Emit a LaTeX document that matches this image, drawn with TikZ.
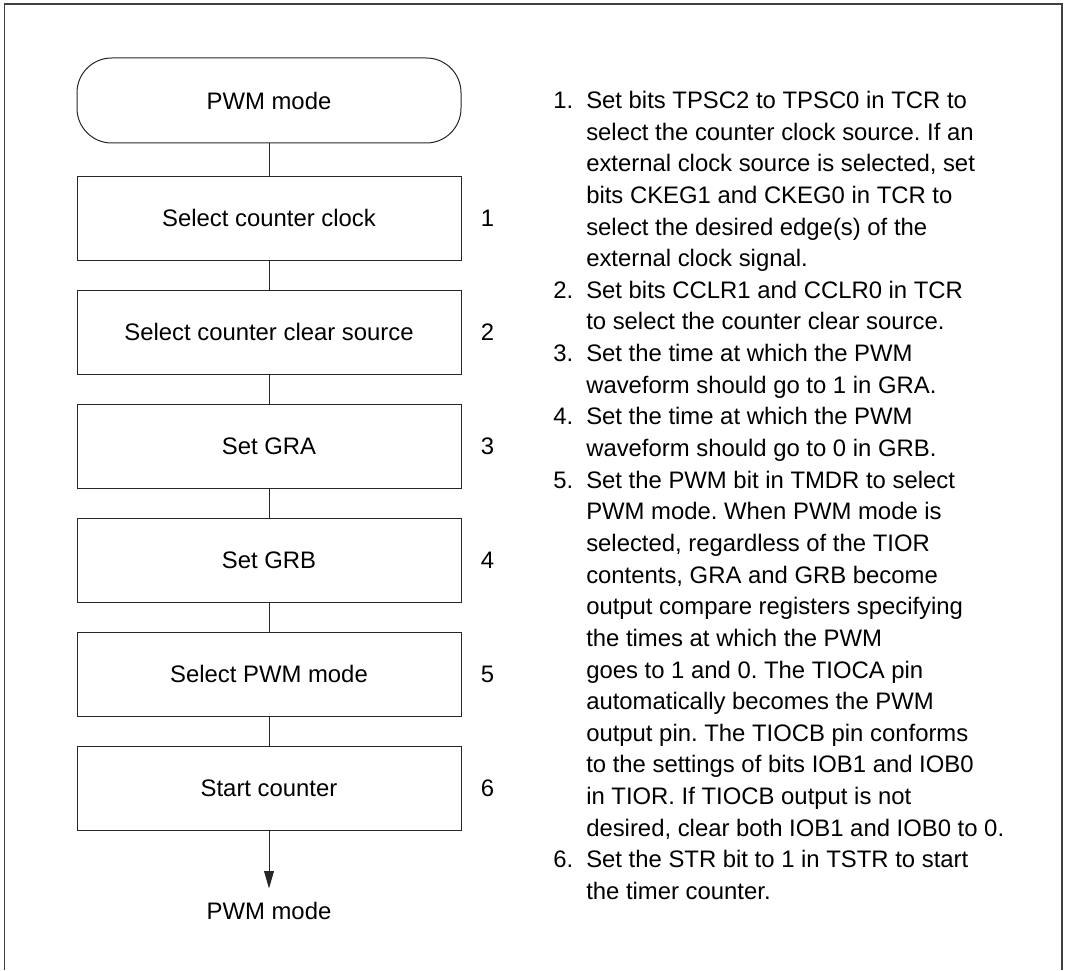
\documentclass[tikz,border=0pt]{standalone}
\usepackage{fontspec}
\setmainfont{Liberation Sans}
\usetikzlibrary{arrows.meta, positioning}
\frenchspacing
\newcommand{\chartfont}{\fontsize{17.9}{23.73}\selectfont}
\tikzset{
  termbox/.style={draw=black!85, rounded corners=26pt, minimum width=288pt, minimum height=63.75pt,
    align=center, line width=0.75pt, font=\chartfont},
  stepbox/.style={draw=black!85, minimum width=288pt, minimum height=63pt,
    align=center, line width=0.75pt, font=\chartfont},
  stepnum/.style={inner sep=0pt, font=\chartfont},
  link/.style={draw=black!85, line width=0.75pt},
  flow/.style={-{Triangle[length=13pt, width=7.3pt]}, draw=black!85, line width=0.75pt},
  frame/.style={draw=black!75, line width=1.3pt}
}

\begin{document}
\begin{tikzpicture}[x=0.75pt, y=-0.75pt, node distance=21.75pt]
\useasboundingbox (0,0) rectangle (1066,970);
\draw[frame] (4.5,970) -- (4.5,4) -- (1062,4) -- (1062,970);

% flow chart
\node[termbox] (term) at (269,100.5) {PWM mode};
\node[stepbox, below=24pt of term] (s1) {Select counter clock};
\node[stepbox, below=of s1] (s2) {Select counter clear source};
\node[stepbox, below=of s2] (s3) {Set GRA};
\node[stepbox, below=of s3] (s4) {Set GRB};
\node[stepbox, below=of s4] (s5) {Select PWM mode};
\node[stepbox, below=of s5] (s6) {Start counter};
\node[inner xsep=0pt, inner ysep=10.3pt, font=\chartfont, below=43.5pt of s6] (endm) {PWM mode};

\node[stepnum, right=14.25pt of s1] (n1) {1};
\node[stepnum, right=14.25pt of s2] (n2) {2};
\node[stepnum, right=14.25pt of s3] (n3) {3};
\node[stepnum, right=14.25pt of s4] (n4) {4};
\node[stepnum, right=14.25pt of s5] (n5) {5};
\node[stepnum, right=14.25pt of s6] (n6) {6};

\draw[link] (term)--(s1); \draw[link] (s1)--(s2); \draw[link] (s2)--(s3);
\draw[link] (s3)--(s4); \draw[link] (s4)--(s5); \draw[flow] (s6)--(endm);
\draw[link] (s5)--(s6);

% notes
\node[anchor=base west, inner sep=0pt, font=\chartfont] (notes) at (553,108.5) {%
\begin{tabular}[t]{@{}p{24.75pt}@{}l@{}}
1. & Set bits TPSC2 to TPSC0 in TCR to\\
   & select the counter clock source. If an\\
   & external clock source is selected, set\\
   & bits CKEG1 and CKEG0 in TCR to\\
   & select the desired edge(s) of the\\
   & external clock signal.\\
2. & Set bits CCLR1 and CCLR0 in TCR\\
   & to select the counter clear source.\\
3. & Set the time at which the PWM\\
   & waveform should go to 1 in GRA.\\
4. & Set the time at which the PWM\\
   & waveform should go to 0 in GRB.\\
5. & Set the PWM bit in TMDR to select\\
   & PWM mode. When PWM mode is\\
   & selected, regardless of the TIOR\\
   & contents, GRA and GRB become\\
   & output compare registers specifying\\
   & the times at which the PWM\\
   & goes to 1 and 0. The TIOCA pin\\
   & automatically becomes the PWM\\
   & output pin. The TIOCB pin conforms\\
   & to the settings of bits IOB1 and IOB0\\
   & in TIOR. If TIOCB output is not\\
   & desired, clear both IOB1 and IOB0 to 0.\\
6. & Set the STR bit to 1 in TSTR to start\\
   & the timer counter.
\end{tabular}};
\end{tikzpicture}
\end{document}
